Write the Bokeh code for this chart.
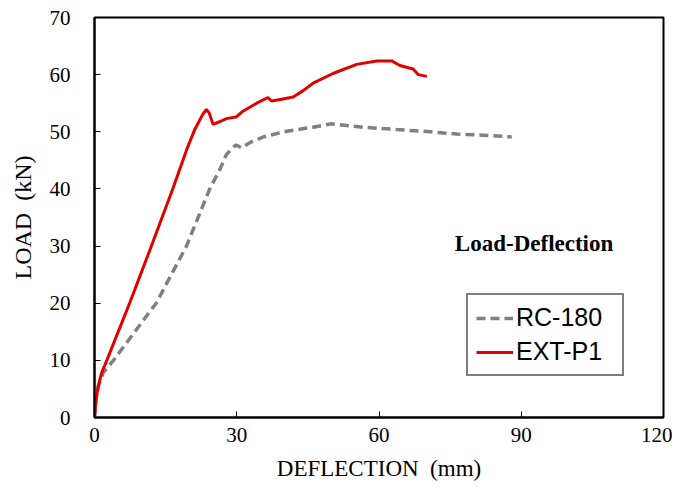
from bokeh.plotting import figure
from bokeh.models import Range1d, FixedTicker, Legend, LegendItem, Label
from bokeh.embed import file_html
from bokeh.resources import INLINE

# Data
rc180_x = [0, 0.3, 0.8, 1.8, 4.0, 8.5, 13.0, 19.4, 24.3, 26.5, 27.8, 29.3, 29.9, 31.0, 33.0, 35.6, 40.5, 46.1, 50.0, 56.7, 63.7, 70.8, 76.4, 82.0, 88.0]
rc180_y = [0, 3.0, 5.5, 7.8, 10.0, 15.0, 20.0, 30.0, 40.0, 43.5, 46.0, 47.3, 47.7, 47.2, 48.2, 49.1, 50.1, 50.8, 51.4, 50.8, 50.4, 50.0, 49.6, 49.4, 49.1]

ext_x = [0, 0.3, 0.8, 1.5, 2.6, 7.4, 12.0, 16.5, 19.5, 21.2, 22.8, 23.6, 24.2, 25.0, 26.5, 27.8, 29.9, 31.3, 34.2, 36.6, 37.3, 39.5, 41.9, 44.0, 46.1, 50.3, 55.3, 59.5, 62.7, 64.4, 67.2, 68.3, 70.1]
ext_y = [0, 3.0, 5.5, 7.8, 10.0, 20.0, 30.0, 40.0, 47.0, 50.5, 53.0, 53.9, 53.3, 51.3, 51.8, 52.3, 52.6, 53.6, 55.0, 56.0, 55.4, 55.7, 56.1, 57.2, 58.5, 60.2, 61.8, 62.4, 62.4, 61.6, 61.0, 60.0, 59.7]

x_ticks = [0, 30, 60, 90, 120]
y_ticks = [0, 10, 20, 30, 40, 50, 60, 70]

serif = "Liberation Serif"
sans = "Liberation Sans"

p = figure(width=672, height=490, output_backend="svg", toolbar_location=None,
           x_range=Range1d(0, 120), y_range=Range1d(0, 70),
           min_border_left=94, min_border_right=9, min_border_top=17, min_border_bottom=73)
p.grid.visible = False
p.outline_line_color = "black"
p.outline_line_width = 2
p.background_fill_color = "white"
p.border_fill_color = "white"

p.xaxis.ticker = FixedTicker(ticks=x_ticks)
p.yaxis.ticker = FixedTicker(ticks=y_ticks)
for ax in (p.xaxis[0], p.yaxis[0]):
    ax.axis_line_color = "black"
    ax.axis_line_width = 2
    ax.major_tick_in = 6
    ax.major_tick_out = 0
    ax.minor_tick_line_color = None
    ax.major_tick_line_color = "black"
    ax.major_tick_line_width = 1
    ax.major_label_text_font = serif
    ax.major_label_text_font_size = "21px"
    ax.major_label_text_color = "black"
    ax.axis_label_text_font = serif
    ax.axis_label_text_font_style = "normal"
    ax.axis_label_text_color = "black"

p.xaxis.axis_label = "DEFLECTION\u00a0\u00a0(mm)"
p.yaxis.axis_label = "LOAD\u00a0\u00a0(kN)"
p.xaxis.axis_label_text_font_size = "23px"
p.yaxis.axis_label_text_font_size = "24px"
p.xaxis.major_label_standoff = 10
p.yaxis.major_label_standoff = 24
p.xaxis.axis_label_standoff = 11
p.yaxis.axis_label_standoff = 11

r1 = p.line(rc180_x, rc180_y, line_color="#808080", line_width=3.5, line_dash="9 5")
r2 = p.line(ext_x, ext_y, line_color="#e00000", line_width=3)

lab = Label(x=76, y=30.5, text="Load-Deflection", text_font=serif, text_font_size="23px",
            text_font_style="bold", text_baseline="middle", text_color="black")
p.add_layout(lab)

legend = Legend(items=[LegendItem(label="RC-180", renderers=[r1]),
                       LegendItem(label="EXT-P1", renderers=[r2])],
                location=(372, 41), margin=0, padding=8, spacing=5,
                glyph_width=37, glyph_height=26, label_standoff=3, label_width=98,
                label_text_font=sans, label_text_font_size="25px",
                label_text_color="black",
                border_line_color="black", border_line_width=2,
                background_fill_alpha=1.0)
p.add_layout(legend)

open("out.html", "w").write(file_html(p, INLINE))
